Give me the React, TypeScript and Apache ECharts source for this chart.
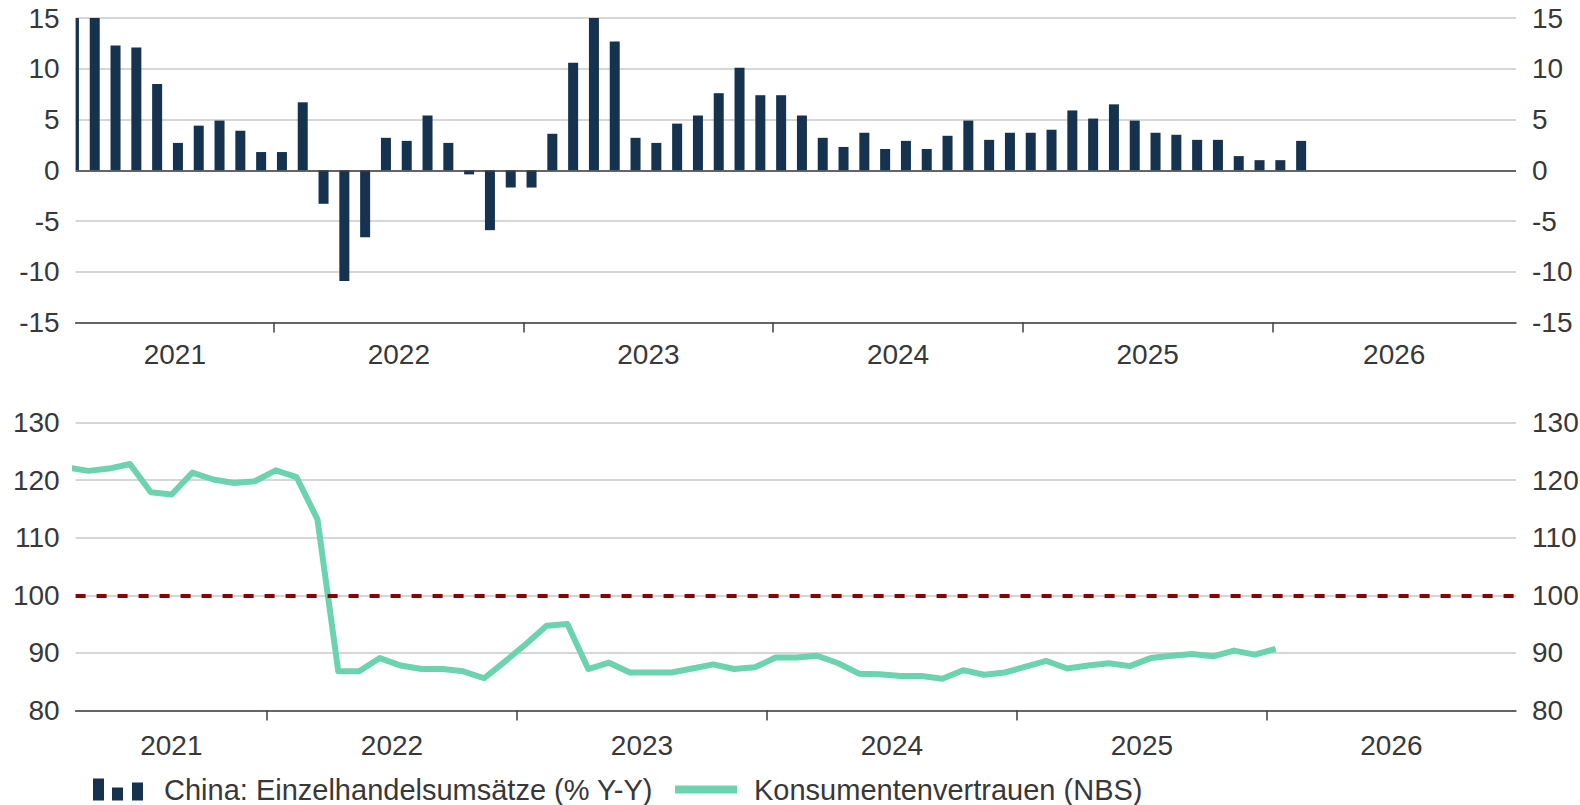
import React, { useEffect, useRef } from "react";
import * as echarts from "echarts";

// ---------- data ----------
const firstYear = 2021;
// Retail sales, % Y-Y, monthly from March 2021
const retailStartMonth = 2; // March (0 = January 2021)
const retail2021 = [34.2, 17.7, 12.3, 12.1, 8.5, 2.7, 4.4, 4.9, 3.9, 1.8];
const retail2022 = [1.8, 6.7, -3.3, -10.9, -6.6, 3.2, 2.9, 5.4, 2.7, -0.4, -5.9, -1.7];
const retail2023 = [-1.7, 3.6, 10.6, 18.4, 12.7, 3.2, 2.7, 4.6, 5.4, 7.6, 10.1, 7.4];
const retail2024 = [7.4, 5.4, 3.2, 2.3, 3.7, 2.1, 2.9, 2.1, 3.4, 4.9, 3.0, 3.7];
const retail2025 = [3.7, 4.0, 5.9, 5.1, 6.5, 4.9, 3.7, 3.5, 3.0, 3.0, 1.4, 1.0];
const retail2026 = [1.0, 2.9];

// Consumer confidence (NBS), monthly from March 2021
const confStartMonth = 2;
const conf2021 = [122.2, 121.6, 122.0, 122.8, 117.9, 117.5, 121.3, 120.1, 119.5, 119.8];
const conf2022 = [121.7, 120.5, 113.2, 86.8, 86.8, 89.1, 87.8, 87.2, 87.2, 86.8, 85.6, 88.5];
const conf2023 = [91.5, 94.7, 95.0, 87.2, 88.3, 86.6, 86.6, 86.6, 87.3, 88.0, 87.2, 87.5];
const conf2024 = [89.2, 89.2, 89.5, 88.2, 86.4, 86.3, 86.0, 86.0, 85.5, 87.0, 86.2, 86.6];
const conf2025 = [87.6, 88.6, 87.3, 87.8, 88.2, 87.7, 89.1, 89.5, 89.8, 89.4, 90.4, 89.7];
const conf2026 = [90.7];

const yearBoundaries = [12, 24, 36, 48, 60]; // months since Jan 2021
const referenceLevel = 100;

const retailName = "China: Einzelhandelsumsätze (% Y-Y)";
const confName = "Konsumentenvertrauen (NBS)";

// ---------- build ----------
const retailValues = [...retail2021, ...retail2022, ...retail2023, ...retail2024, ...retail2025, ...retail2026];
const confValues = [...conf2021, ...conf2022, ...conf2023, ...conf2024, ...conf2025, ...conf2026];

// position within a month (date of observation)
const BAR_DAY = 0.38;
const LINE_DAY = 0.42;

const retailData = retailValues.map((v, i) => [retailStartMonth + i + BAR_DAY, v]);
const confData = confValues.map((v, i) => [confStartMonth + i + LINE_DAY, v]);

const TOP_MIN = 2.46, TOP_MAX = 71.71;
const BOT_MIN = 2.81, BOT_MAX = 71.96;

const labelPositions = (min: number, max: number) => [
  (min + yearBoundaries[0]) / 2,
  ...yearBoundaries.slice(0, -1).map((b) => b + 6),
  (yearBoundaries[yearBoundaries.length - 1] + max) / 2,
];

const FONT = "'Liberation Sans', Arial, Helvetica, sans-serif";
const FS = 28;
const LFS = 29;
const TXT = "#383838";
const GRID = "#c8c8c8";
const AXIS = "#3f3f3f";
const NAVY = "#15324f";
const GREEN = "#6bd3ad";
const RED = "#8b0000";
const BAR_W = 10;

const yearFormatter = (v: number) => String(firstYear + Math.floor(v / 12));

function xAxisFor(gridIndex: number, min: number, max: number, margin: number) {
  return {
    type: "value",
    gridIndex,
    min,
    max,
    axisLine: { show: true, onZero: false, lineStyle: { color: AXIS, width: 1.5 } },
    axisTick: { show: true, customValues: yearBoundaries, length: 10, lineStyle: { color: AXIS, width: 1.5 } },
    axisLabel: {
      show: true,
      customValues: labelPositions(min, max),
      formatter: yearFormatter,
      color: TXT,
      fontSize: FS,
      fontFamily: FONT,
      margin,
    },
    splitLine: { show: false },
  };
}

function yAxisFor(gridIndex: number, min: number, max: number, interval: number, position: string, grid: boolean) {
  return {
    type: "value",
    gridIndex,
    min,
    max,
    interval,
    position,
    axisLine: { show: false },
    axisTick: { show: false },
    axisLabel: { color: TXT, fontSize: FS, fontFamily: FONT, margin: 16 },
    splitLine: { show: grid, lineStyle: { color: GRID, width: 1.5 } },
  };
}

const barIcon = "path://M0,0H11V22H0Z M19,9H30V22H19Z M39,4H50V22H39Z";

function renderBar(params: any, api: any) {
  const x = api.value(0);
  const y = api.value(1);
  const base = api.coord([x, 0]);
  const tip = api.coord([x, y]);
  const cs = params.coordSys;
  const shape = echarts.graphic.clipRectByRect(
    {
      x: base[0] - BAR_W / 2,
      y: Math.min(base[1], tip[1]),
      width: BAR_W,
      height: Math.abs(tip[1] - base[1]),
    },
    { x: cs.x, y: cs.y, width: cs.width, height: cs.height }
  );
  if (!shape) return null;
  return { type: "rect", shape, style: { fill: NAVY } };
}

export default function App() {
  const ref = useRef<HTMLDivElement>(null);
  useEffect(() => {
    if (!ref.current) return;
    const chart = echarts.init(ref.current, null, { renderer: "svg" });
    chart.setOption({
      animation: false,
      backgroundColor: "#ffffff",
      textStyle: { fontFamily: FONT },
      grid: [
        { left: 75.6, right: 64, top: 18.1, height: 304.4, outerBoundsMode: "none" },
        { left: 75.6, right: 64, top: 422.5, height: 288, outerBoundsMode: "none" },
      ],
      xAxis: [xAxisFor(0, TOP_MIN, TOP_MAX, 18), xAxisFor(1, BOT_MIN, BOT_MAX, 21)],
      yAxis: [
        yAxisFor(0, -15, 15, 5, "left", true),
        yAxisFor(0, -15, 15, 5, "right", false),
        yAxisFor(1, 80, 130, 10, "left", true),
        yAxisFor(1, 80, 130, 10, "right", false),
      ],
      legend: [
        {
          left: 93,
          top: 775,
          padding: 0,
          itemWidth: 50,
          itemHeight: 22,
          data: [{ name: retailName, icon: barIcon, itemStyle: { color: NAVY } }],
          textStyle: { color: TXT, fontSize: LFS, lineHeight: 29, fontFamily: FONT, padding: [0, 0, 0, 16] },
          selectedMode: false,
        },
        {
          left: 675,
          top: 775,
          padding: 0,
          itemWidth: 62,
          itemHeight: 8,
          data: [{ name: confName, icon: "rect" }],
          textStyle: { color: TXT, fontSize: LFS, lineHeight: 29, fontFamily: FONT, padding: [0, 0, 0, 12] },
          selectedMode: false,
        },
      ],
      series: [
        {
          name: retailName,
          type: "custom",
          xAxisIndex: 0,
          yAxisIndex: 0,
          data: retailData,
          encode: { x: 0, y: 1 },
          renderItem: renderBar,
          itemStyle: { color: NAVY },
          z: 2,
        },
        {
          name: "zero",
          type: "line",
          xAxisIndex: 0,
          yAxisIndex: 0,
          data: [],
          z: 3,
          markLine: {
            silent: true,
            symbol: ["none", "none"],
            label: { show: false },
            lineStyle: { color: AXIS, width: 1.5, type: "solid" },
            data: [{ yAxis: 0 }],
          },
        },
        {
          name: "ref",
          type: "line",
          xAxisIndex: 1,
          yAxisIndex: 2,
          data: [],
          z: 1,
          markLine: {
            silent: true,
            symbol: ["none", "none"],
            label: { show: false },
            lineStyle: { color: RED, width: 4, type: [10, 11] },
            data: [{ yAxis: referenceLevel }],
          },
        },
        {
          name: confName,
          type: "line",
          xAxisIndex: 1,
          yAxisIndex: 2,
          data: confData,
          showSymbol: false,
          symbol: "none",
          clip: true,
          z: 3,
          lineStyle: { color: GREEN, width: 6, join: "round" },
          itemStyle: { color: GREEN },
        },
      ],
    });
    return () => chart.dispose();
  }, []);
  return <div ref={ref} style={{ position: "absolute", left: 0, top: 0, width: 1580, height: 805 }} />;
}
